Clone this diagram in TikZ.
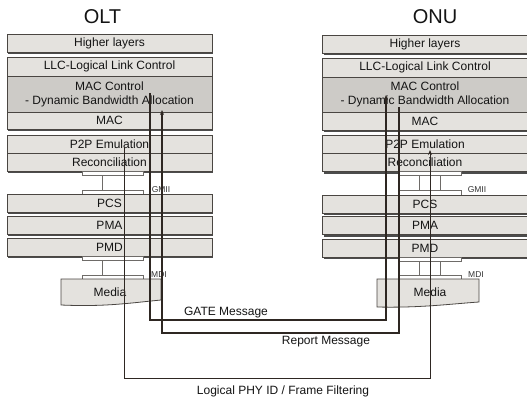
\documentclass[tikz,border=0pt]{standalone}
\usepackage{fontspec}
\setmainfont{Liberation Sans}
\usetikzlibrary{arrows.meta,shadows}
\definecolor{boxgray}{HTML}{E4E2DE}
\definecolor{macgray}{HTML}{CDCBC7}
\definecolor{edge}{HTML}{4A4642}
\definecolor{wire}{HTML}{2E2722}
\tikzset{
  lay/.style={draw=edge, line width=0.8pt, fill=boxgray, minimum width=205pt, inner sep=0pt, outer sep=0pt,
    font=\fontsize{12}{14}\selectfont, text=black!92,
    drop shadow={shadow xshift=1.2pt, shadow yshift=-2.2pt, fill=black!70, opacity=1}},
  macbox/.style={lay, fill=macgray, align=center},
  link/.style={draw=edge!80, line width=0.6pt, fill=white},
  tie/.style={draw=edge!80, line width=0.6pt},
  media/.style={draw=edge, line width=0.8pt, fill=boxgray},
  tiny/.style={font=\fontsize{8.5}{9}\selectfont, text=black!80, inner sep=0pt},
  ttl/.style={font=\fontsize{20}{22}\selectfont, text=black!92, inner sep=0pt},
  msg/.style={font=\fontsize{12}{14}\selectfont, text=black!92, inner sep=0pt},
  phy/.style={draw=wire, line width=1pt},
  gate/.style={draw=wire, line width=1.4pt},
  rep/.style={draw=wire, line width=1.8pt},
  tip/.style={-{Stealth[length=5pt,width=4pt]}}
}
\begin{document}
\begin{tikzpicture}[x=1pt,y=-1pt]
\useasboundingbox (0,0) rectangle (527,401);
\fill[white] (0,0) rectangle (527,401);

% titles
\node[ttl] (oltT) at (102.5,17) {OLT};
\node[ttl] (onuT) at (435,17) {ONU};

% ---------- OLT stack ----------
\node[lay, minimum height=18pt] (oHL) at (109.5,43) {Higher layers};
\node[lay, minimum height=19pt] (oLLC) at (109.5,66.5) {LLC-Logical Link Control};
\node[macbox, minimum height=36pt] (oMC) at (109.5,94) {MAC Control\\- Dynamic Bandwidth Allocation};
\node[lay, minimum height=17pt] (oMAC) at (109.5,120.5) {MAC};
\node[lay, minimum height=18pt] (oP2P) at (109.5,144) {P2P Emulation};
\node[lay, minimum height=18pt] (oREC) at (109.5,162) {Reconciliation};
\draw[link] (82,171) rectangle (143,175);
\draw[tie] (102,175) -- (102,190);
\draw[link] (82,190) rectangle (143,194);
\node[tiny] (oGMII) at (161,190) {GMII};
\node[lay, minimum height=18pt] (oPCS) at (109.5,203) {PCS};
\node[lay, minimum height=18pt] (oPMA) at (109.5,225) {PMA};
\node[lay, minimum height=18pt] (oPMD) at (109.5,247) {PMD};
\draw[link] (82,256) rectangle (143,260);
\draw[tie] (102,260) -- (102,275);
\draw[link] (82,275) rectangle (143,279);
\node[tiny] (oMDI) at (159,275) {MDI};
\draw[media] (61,279) -- (161,279) -- (161,300) .. controls (130,303) and (105,307) .. (61,305) -- cycle;
\node[msg] (oMed) at (110,292) {Media};

% ---------- ONU stack ----------
\node[lay, minimum height=18pt] (nHL) at (425,44) {Higher layers};
\node[lay, minimum height=19pt] (nLLC) at (425,67.5) {LLC-Logical Link Control};
\node[macbox, minimum height=35pt] (nMC) at (425,94.5) {MAC Control\\- Dynamic Bandwidth Allocation};
\node[lay, minimum height=18pt] (nMAC) at (425,121) {MAC};
\node[lay, minimum height=18pt] (nP2P) at (425,144) {P2P Emulation};
\node[lay, minimum height=18pt] (nREC) at (425,162.5) {Reconciliation};
\draw[link] (399,171.5) rectangle (461,175.5);
\draw[tie] (419,175.5) -- (419,190) (440,175.5) -- (440,190);
\draw[link] (399,190) rectangle (461,195);
\node[tiny] (nGMII) at (477,190) {GMII};
\node[lay, minimum height=18pt] (nPCS) at (425,204) {PCS};
\node[lay, minimum height=18pt] (nPMA) at (425,225.5) {PMA};
\node[lay, minimum height=18pt] (nPMD) at (425,248) {PMD};
\draw[link] (399,257) rectangle (461,261);
\draw[tie] (419,261) -- (419,275) (440,261) -- (440,275);
\draw[link] (399,275) rectangle (461,279);
\node[tiny] (nMDI) at (476,275) {MDI};
\draw[media] (377,279) -- (479,279) -- (479,302) .. controls (450,304) and (420,308) .. (377,307) -- cycle;
\node[msg] (nMed) at (430,292) {Media};

% ---------- connectors ----------
\coordinate (phyS) at (124,147);
\coordinate (phyA) at (124,378);
\coordinate (phyB) at (430,378);
\coordinate (phyE) at (430,150);
\draw[phy, tip] (phyS) -- (phyA) -- (phyB) -- (phyE);

\coordinate (gateS) at (150,93);
\coordinate (gateA) at (150,320);
\coordinate (gateB) at (386,320);
\coordinate (gateE) at (386,95);
\draw[gate, tip] (gateS) -- (gateA) -- (gateB) -- (gateE);

\coordinate (repS) at (399,107);
\coordinate (repA) at (399,333);
\coordinate (repB) at (162,333);
\coordinate (repE) at (162,110);
\draw[rep, tip] (repS) -- (repA) -- (repB) -- (repE);

\node[msg] (gateL) at (226,312.5) {GATE Message};
\node[msg] (repL) at (326,341.5) {Report Message};
\node[msg] (phyL) at (283,391.5) {Logical PHY ID / Frame Filtering};
\end{tikzpicture}
\end{document}
